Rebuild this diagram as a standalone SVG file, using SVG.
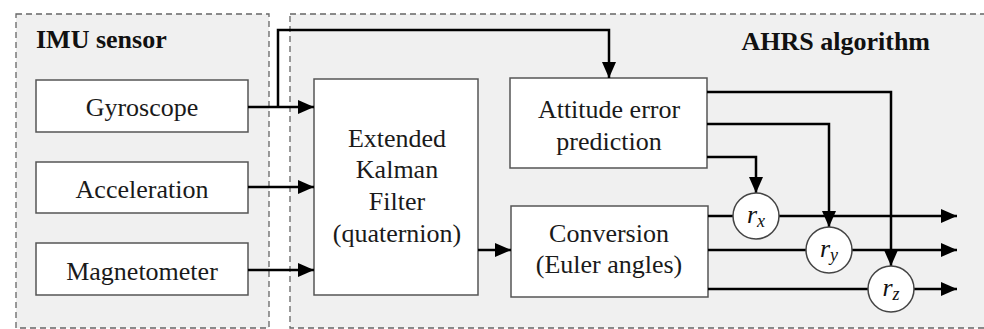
<svg xmlns="http://www.w3.org/2000/svg" width="984" height="329" viewBox="0 0 984 329">
<defs>
<style>
.grp{fill:#f0f0f0;stroke:#666;stroke-width:1.3;stroke-dasharray:6,4}
.box{fill:#fff;stroke:#555;stroke-width:1.5}
.circ{fill:#fff;stroke:#444;stroke-width:1.5}
.t{font-family:'Liberation Serif','DejaVu Serif',serif;font-size:26px;fill:#1a1a1a;text-anchor:middle}
.title{font-family:'Liberation Serif','DejaVu Serif',serif;font-size:26px;font-weight:bold;fill:#111}
.m{font-family:'Liberation Serif','DejaVu Serif',serif;font-style:italic;font-size:26px;fill:#111;text-anchor:middle}
.c{fill:none;stroke:#000;stroke-width:2.5}
</style>
<marker id="ah" markerUnits="userSpaceOnUse" markerWidth="16" markerHeight="14" refX="16" refY="7" orient="auto">
<path d="M0,0 L16,7 L0,14 z" fill="#000"/>
</marker>
</defs>
<rect x="0" y="0" width="984" height="329" fill="#fff"/>
<g id="imu-group">
<rect class="grp" x="16" y="14" width="253" height="314"/>
<text class="title" x="36" y="48">IMU sensor</text>
</g>
<g id="ahrs-group">
<rect class="grp" x="290" y="14" width="710" height="314"/>
<text class="title" x="930" y="50" text-anchor="end">AHRS algorithm</text>
</g>
<g id="gyroscope">
<rect class="box" x="36" y="80" width="212" height="52"/>
<text class="t" x="142" y="116">Gyroscope</text>
</g>
<g id="acceleration">
<rect class="box" x="36" y="162" width="212" height="51"/>
<text class="t" x="142" y="198">Acceleration</text>
</g>
<g id="magnetometer">
<rect class="box" x="36" y="243" width="212" height="52"/>
<text class="t" x="142" y="280">Magnetometer</text>
</g>
<g id="ekf">
<rect class="box" x="314" y="79" width="164" height="216"/>
<text class="t" x="397" y="147">Extended</text>
<text class="t" x="397" y="178">Kalman</text>
<text class="t" x="397" y="210">Filter</text>
<text class="t" x="397" y="242">(quaternion)</text>
</g>
<g id="attitude">
<rect class="box" x="510" y="78" width="197" height="90"/>
<text class="t" x="609" y="118">Attitude error</text>
<text class="t" x="609" y="150">prediction</text>
</g>
<g id="conversion">
<rect class="box" x="511" y="206" width="197" height="91"/>
<text class="t" x="609" y="242">Conversion</text>
<text class="t" x="609" y="273">(Euler angles)</text>
</g>
<g id="connectors">
<line class="c" x1="248" y1="107" x2="314" y2="107" marker-end="url(#ah)"/>
<path class="c" d="M278,107 V30 H609 V78" marker-end="url(#ah)"/>
<line class="c" x1="248" y1="187" x2="314" y2="187" marker-end="url(#ah)"/>
<line class="c" x1="248" y1="270" x2="314" y2="270" marker-end="url(#ah)"/>
<line class="c" x1="478" y1="250" x2="511" y2="250" marker-end="url(#ah)"/>
<path class="c" d="M707,92 H891 V266" marker-end="url(#ah)"/>
<path class="c" d="M707,124 H829 V227" marker-end="url(#ah)"/>
<path class="c" d="M707,157 H756 V193" marker-end="url(#ah)"/>
<line class="c" x1="708" y1="216" x2="733" y2="216"/>
<line class="c" x1="779" y1="216" x2="957" y2="216" marker-end="url(#ah)"/>
<line class="c" x1="708" y1="250" x2="806" y2="250"/>
<line class="c" x1="852" y1="250" x2="957" y2="250" marker-end="url(#ah)"/>
<line class="c" x1="708" y1="289" x2="868" y2="289"/>
<line class="c" x1="914" y1="289" x2="957" y2="289" marker-end="url(#ah)"/>
</g>
<g id="rx">
<circle class="circ" cx="756" cy="216" r="23"/>
<text class="m" x="756" y="223">r<tspan font-size="18" dy="4">x</tspan></text>
</g>
<g id="ry">
<circle class="circ" cx="829" cy="250" r="23"/>
<text class="m" x="829" y="257">r<tspan font-size="18" dy="4">y</tspan></text>
</g>
<g id="rz">
<circle class="circ" cx="891" cy="289" r="23"/>
<text class="m" x="891" y="296">r<tspan font-size="18" dy="4">z</tspan></text>
</g>
</svg>
